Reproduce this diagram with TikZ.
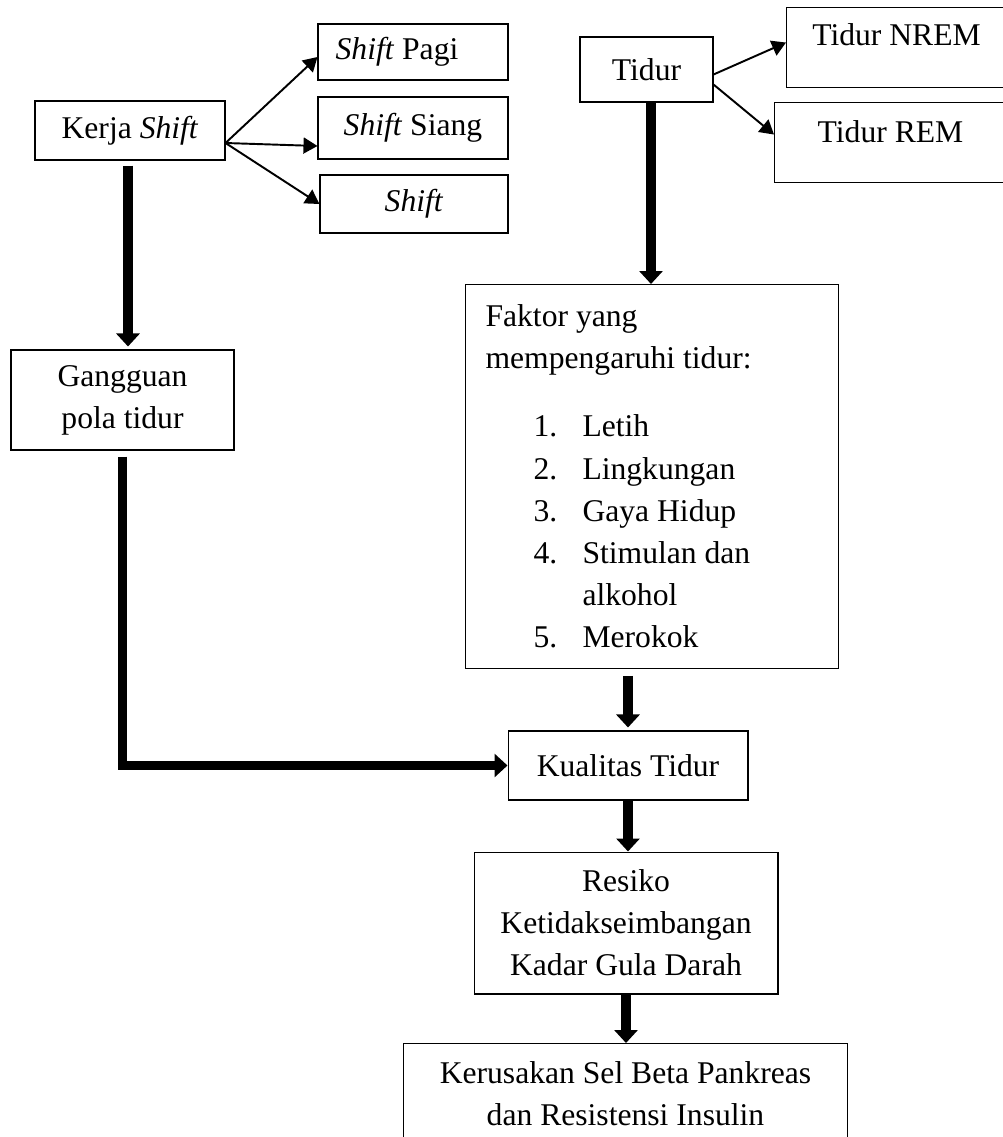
\documentclass[tikz,border=0pt]{standalone}
\usepackage{fontspec}
\setmainfont{Liberation Serif}
\usepackage{tikz}
\usetikzlibrary{positioning,arrows.meta,calc}

\newcommand{\faktorrow}[2]{\hspace*{0.96cm}\makebox[0.98cm][l]{#1}#2}

\begin{document}
\begin{tikzpicture}[x=0.02cm, y=-0.02cm,
  every node/.style={font=\fontsize{18}{24}\selectfont},
  box/.style={draw, line width=0.6pt, inner sep=0pt, align=center},
  thinarrow/.style={line width=1.1pt, -{Triangle[length=0.28cm, width=0.32cm]}},
  thickarrow/.style={line width=0.2cm, -{Triangle[length=0.26cm, width=0.46cm]}},
  routearrow/.style={line width=0.17cm, -{Triangle[length=0.26cm, width=0.46cm]}}]
\useasboundingbox (0,0) rectangle (1002,1137);

% Kerja shift and the three shifts
\node[box, minimum width=3.8cm, minimum height=1.18cm] (kerja) at (130,130.5) {Kerja \textit{Shift}};
\node[box, minimum width=3.8cm, minimum height=1.12cm] (pagi) at (413,52) {\textit{Shift} Pagi\hspace*{0.64cm}};
\node[box, minimum width=3.8cm, minimum height=1.24cm] (siang) at (413,128) {\textit{Shift} Siang};
\node[box, minimum width=3.76cm, minimum height=1.16cm] (shiftm) at (414,204) {\textit{Shift}};
\foreach \t/\s in {pagi/-0.1cm, siang/-0.36cm, shiftm/0cm}
  \draw[thinarrow] ([yshift=-0.25cm]kerja.east) -- ([yshift=\s]\t.west);

% Tidur and its two kinds
\node[box, minimum width=2.66cm, minimum height=1.3cm] (tidur) at (646.5,69.5) {Tidur};
\node[box, anchor=north west, minimum width=4.4cm, text height=0.76cm, text depth=0.84cm] (nrem) at (786,7) {Tidur NREM};
\node[box, anchor=north west, minimum width=4.64cm, text height=0.8cm, text depth=0.8cm] (rem) at (774,102) {Tidur REM};
\draw[thinarrow] ([yshift=-0.1cm]tidur.east) -- ([yshift=0.1cm]nrem.west);
\draw[thinarrow] ([yshift=-0.3cm]tidur.east) -- ([yshift=0.16cm]rem.west);

% left branch
\node[box, minimum width=4.46cm, minimum height=2cm] (gangguan) at (122.5,400) {Gangguan\\pola tidur};

% factors
\node[box, anchor=north west, align=flush left, inner xsep=0.4cm, text width=6.66cm,
      minimum width=7.46cm, minimum height=7.68cm] (faktor) at (465,284)
  {Faktor yang\\mempengaruhi tidur:\\[0.52cm]
   \faktorrow{1.}{Letih}\\
   \faktorrow{2.}{Lingkungan}\\
   \faktorrow{3.}{Gaya Hidup}\\
   \faktorrow{4.}{Stimulan dan}\\
   \faktorrow{}{alkohol}\\
   \faktorrow{5.}{Merokok}};

% lower chain
\node[box, minimum width=4.8cm, minimum height=1.38cm] (kualitas) at (628,765.5) {Kualitas Tidur};
\node[box, minimum width=6.08cm, minimum height=2.84cm] (resiko) at (626,923) {Resiko\\Ketidakseimbangan\\Kadar Gula Darah};
\node[box, anchor=north, inner ysep=0.36cm, text depth=0.6cm, minimum width=8.9cm] (kerusakan) at (625.5,1043)
  {Kerusakan Sel Beta Pankreas\\dan Resistensi Insulin};

% thick connectors
\draw[thickarrow, shorten <=0.1cm, shorten >=0.06cm] ([xshift=-0.04cm]kerja.south) -- ([xshift=-0.04cm]kerja.south |- gangguan.north);
\draw[thickarrow] ([xshift=0.09cm]tidur.south) -- ([xshift=0.09cm]tidur.south |- faktor.north);
\draw[routearrow] ([yshift=-0.12cm]gangguan.south) |- (kualitas.west);
\draw[thickarrow, shorten <=0.14cm, shorten >=0.06cm] (kualitas.north |- faktor.south) -- (kualitas.north);
\draw[thickarrow] (kualitas.south) -- (kualitas.south |- resiko.north);
\draw[thickarrow] (resiko.south) -- (resiko.south |- kerusakan.north);
\end{tikzpicture}
\end{document}
